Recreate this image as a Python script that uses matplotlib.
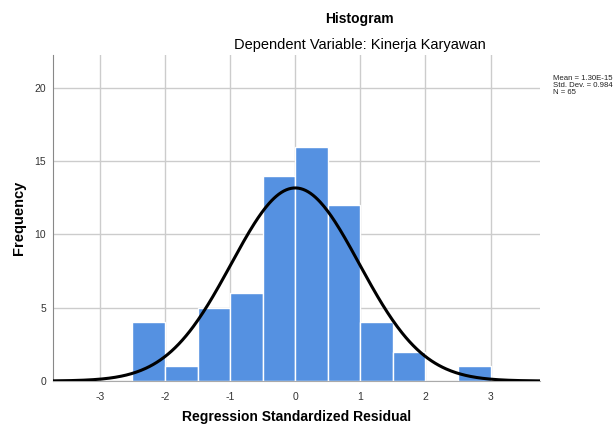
import numpy as np
import matplotlib.pyplot as plt

plt.rcParams['font.family'] = ['Liberation Sans', 'DejaVu Sans']
plt.rcParams['axes.unicode_minus'] = False

# histogram bins (regression standardized residual) and counts
bin_edges = [-2.5, -2.0, -1.5, -1.0, -0.5, 0.0, 0.5, 1.0, 1.5, 2.0, 2.5, 3.0]
counts = [4, 1, 5, 6, 14, 16, 12, 4, 2, 0, 1]

mean = 1.30e-15
std_dev = 0.984
n = 65

x_ticks = [-3, -2, -1, 0, 1, 2, 3]
y_ticks = [0, 5, 10, 15, 20]

fig = plt.figure(figsize=(6.15, 4.28), dpi=100)
ax = fig.add_axes([0.0862, 0.1098, 0.792, 0.7617])

edges = np.array(bin_edges)
widths = np.diff(edges)
ax.bar(edges[:-1], counts, width=widths, align='edge', color='#5591e1',
       edgecolor='white', linewidth=1.0, zorder=2)

# normal curve scaled to counts
xs = np.linspace(-3.72, 3.76, 400)
bw = widths[0]
ys = n * bw / (std_dev * np.sqrt(2 * np.pi)) * np.exp(-0.5 * ((xs - mean) / std_dev) ** 2)
ax.plot(xs, ys, color='black', linewidth=2.2, zorder=3, solid_capstyle='butt')

ax.set_xlim(-3.72, 3.76)
ax.set_ylim(0, 22.25)
ax.set_xticks(x_ticks)
ax.set_yticks(y_ticks)
ax.tick_params(length=0, labelsize=7.5, colors='#333333', pad=8)
ax.tick_params(axis='y', pad=5)
ax.grid(True, color='#cccccc', linewidth=1.0, zorder=0)
ax.set_axisbelow(True)

for s in ['top', 'right']:
    ax.spines[s].set_visible(False)
ax.spines['left'].set_color('#888888')
ax.spines['bottom'].set_color('#aaaaaa')

ax.set_xlabel('Regression Standardized Residual', fontsize=10, fontweight='bold', labelpad=6)
ax.set_ylabel('Frequency', fontsize=10.5, fontweight='bold', labelpad=6)

fig.text(0.585, 0.955, 'Histogram', ha='center', va='center', fontsize=10, fontweight='bold')
fig.text(0.585, 0.895, 'Dependent Variable: Kinerja Karyawan', ha='center', va='center',
         fontsize=10.5)

fig.text(0.899, 0.80, f'Mean = {mean:.2E}\nStd. Dev. = {std_dev}\nN = {n}',
         ha='left', va='center', fontsize=5.6, linespacing=0.95, color='#222222')

fig.savefig('out.png', dpi=100)
